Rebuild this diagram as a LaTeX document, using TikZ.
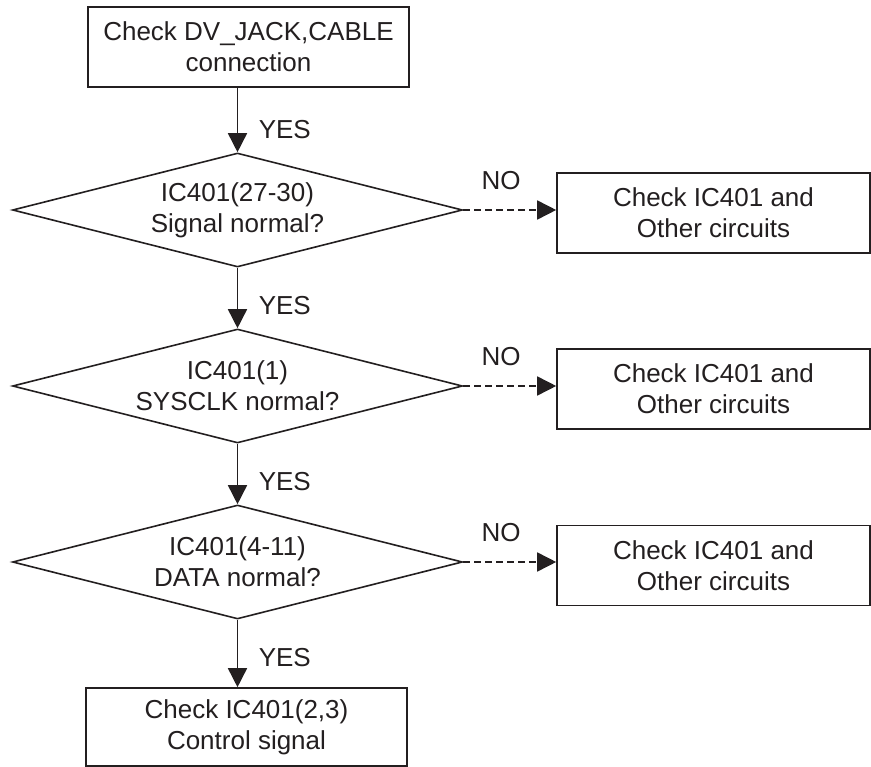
\documentclass[tikz,border=0pt]{standalone}
\usepackage{fontspec}
\setmainfont{Liberation Sans}
\usetikzlibrary{shapes.geometric,arrows.meta}
\definecolor{ink}{RGB}{35,31,32}
\begin{document}
\begin{tikzpicture}[x=1pt,y=-1pt,line width=1.6pt,
  every node/.style={font=\fontsize{26}{31}\selectfont, text=ink},
  box/.style={draw=ink, rectangle, align=center, inner sep=0pt},
  dec/.style={draw=ink, diamond, align=center, inner sep=0pt, shape aspect=3.95,
              minimum width=450pt, minimum height=114pt},
  yesarrow/.style={draw=ink, -{Triangle[length=19pt,width=19pt]}},
  noarrow/.style={draw=ink, dash pattern=on 7pt off 4pt, -{Triangle[length=19pt,width=19pt]}},
  lbl/.style={inner sep=0pt}]
\useasboundingbox (0,0) rectangle (871,767);
\fill[white] (0,0) rectangle (871,767);

\node[box, minimum width=321pt, minimum height=80pt] (start) at (248.5,47) {Check DV\_JACK,CABLE\\connection};
\node[dec] (d1) at (237.5,210) {IC401(27-30)\\Signal normal?};
\node[dec] (d2) at (237.5,386) {IC401(1)\\SYSCLK normal?};
\node[dec] (d3) at (237.5,562) {IC401(4-11)\\DATA normal?};
\node[box, minimum width=313pt, minimum height=80pt] (c1) at (713.5,213) {Check IC401 and\\Other circuits};
\node[box, minimum width=313pt, minimum height=80pt] (c2) at (713.5,389) {Check IC401 and\\Other circuits};
\node[box, minimum width=313pt, minimum height=80pt] (c3) at (713.5,565.5) {Check IC401 and\\Other circuits};
\node[box, minimum width=321pt, minimum height=78pt] (end) at (246.5,727) {Check IC401(2,3)\\Control signal};

\draw[yesarrow] (start.south -| d1.north) -- (d1.north);
\draw[yesarrow] (d1.south) -- (d2.north);
\draw[yesarrow] (d2.south) -- (d3.north);
\draw[yesarrow] (d3.south) -- (end.north -| d3.south);

\draw[noarrow] (d1.east) -- (d1.east -| c1.west);
\draw[noarrow] (d2.east) -- (d2.east -| c2.west);
\draw[noarrow] (d3.east) -- (d3.east -| c3.west);

\node[lbl, anchor=west] (y1) at (258,130) {YES};
\node[lbl, anchor=west] (y2) at (258,306) {YES};
\node[lbl, anchor=west] (y3) at (258,482) {YES};
\node[lbl, anchor=west] (y4) at (258,658) {YES};

\node[lbl] (n1) at (501,181) {NO};
\node[lbl] (n2) at (501,357) {NO};
\node[lbl] (n3) at (501,533) {NO};
\end{tikzpicture}
\end{document}
